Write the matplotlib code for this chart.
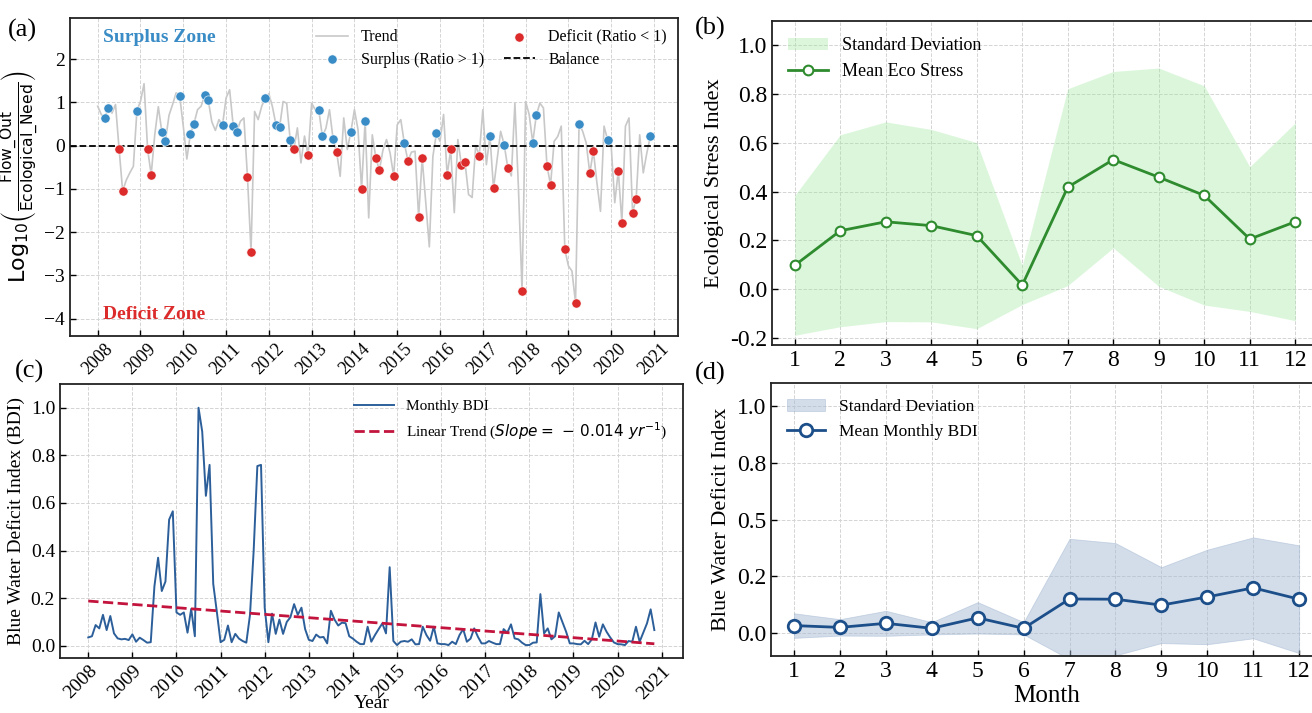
import numpy as np
import matplotlib
matplotlib.use('Agg')
import matplotlib.pyplot as plt

plt.rcParams['font.family'] = ['Liberation Serif', 'DejaVu Serif']
plt.rcParams['mathtext.fontset'] = 'dejavusans'

# ---------------- data ----------------
START_YEAR = 2008

# (a) monthly log10(Flow_Out / Ecological_Need), Jan 2008 .. Dec 2020
log_ratio = [
    0.91, 0.72, 0.64, 0.88, 0.75, 0.95, -0.08, -1.05, -0.80, -0.63, -0.48, 0.81,
    1.02, 1.43, -0.09, -0.67, 0.25, 0.90, 0.31, 0.11, 0.70, 0.95, 1.22, 1.14,
    0.45, -0.31, 0.27, 0.51, 0.83, 0.91, 1.16, 1.05, 0.55, 0.35, 0.60, 0.47,
    1.10, 1.29, 0.46, 0.32, 0.56, 0.64, -0.72, -2.45, 0.79, 0.60, 0.91, 1.10,
    1.20, 0.90, 0.48, 0.42, 1.02, 0.98, 0.12, -0.09, 0.41, -0.40, 0.22, -0.22,
    0.98, 0.83, 0.82, 0.22, 0.40, 0.83, 0.16, -0.15, -0.71, 0.64, -0.09, 0.32,
    0.83, 0.37, -1.00, 0.58, -1.67, 0.25, -0.28, -0.57, -0.10, 0.14, -0.17, -0.70,
    0.48, 0.60, 0.05, -0.35, -0.15, -0.13, -1.65, -0.29, -1.30, -2.34, -0.25, 0.29,
    0.10, 0.72, -0.68, -0.09, -1.55, 0.14, -0.45, -0.38, -1.13, -1.20, 0.00, -0.23,
    0.83, -0.44, 0.22, -0.99, -0.32, 0.33, 0.02, -0.51, -0.70, 0.98, -1.00, -3.35,
    1.02, 0.72, 0.07, 0.70, 0.98, 0.87, -0.47, -0.91, 0.10, 0.21, 0.45, -2.40,
    -2.78, -2.90, -3.63, 0.51, 0.33, 0.06, -0.64, -0.12, -0.86, -1.52, 0.45, 0.13,
    0.00, -1.32, -0.58, -1.78, 0.45, 0.64, -1.55, -1.23, 0.25, -0.63, -0.17, 0.22,
]
sample_months = [2, 3, 6, 7, 11]  # months of each year shown as dots

# (b) ecological stress by calendar month
months = list(range(1, 13))
eco_mean = [0.097, 0.239, 0.276, 0.260, 0.219, 0.016, 0.418, 0.531, 0.459, 0.384, 0.205, 0.276]
eco_std = [0.287, 0.394, 0.410, 0.395, 0.382, 0.080, 0.404, 0.362, 0.448, 0.450, 0.297, 0.406]

# (c) monthly BDI, Jan 2008 .. Nov 2020
bdi = [
    0.035, 0.040, 0.087, 0.073, 0.130, 0.066, 0.125, 0.052, 0.031, 0.027, 0.029, 0.024,
    0.048, 0.017, 0.034, 0.024, 0.013, 0.015, 0.250, 0.370, 0.230, 0.270, 0.530, 0.565,
    0.140, 0.130, 0.140, 0.055, 0.155, 0.040, 1.000, 0.900, 0.630, 0.760, 0.260, 0.140,
    0.015, 0.025, 0.085, 0.015, 0.050, 0.030, 0.020, 0.013, 0.130, 0.400, 0.755, 0.760,
    0.160, 0.015, 0.135, 0.050, 0.110, 0.050, 0.100, 0.120, 0.175, 0.130, 0.160, 0.070,
    0.025, 0.020, 0.047, 0.035, 0.037, 0.010, 0.147, 0.110, 0.085, 0.097, 0.095, 0.040,
    0.030, 0.017, 0.007, 0.007, 0.080, 0.017, 0.045, 0.070, 0.094, 0.052, 0.330, 0.020,
    0.003, 0.017, 0.020, 0.017, 0.027, 0.006, 0.007, 0.080, 0.045, 0.021, 0.080, 0.010,
    0.007, 0.007, 0.003, 0.017, 0.007, 0.045, 0.070, 0.017, 0.030, 0.073, 0.038, 0.010,
    0.010, 0.020, 0.013, 0.007, 0.007, 0.070, 0.055, 0.090, 0.031, 0.027, 0.013, 0.003,
    0.003, 0.013, 0.014, 0.217, 0.052, 0.073, 0.027, 0.040, 0.140, 0.100, 0.059, 0.010,
    0.010, 0.007, 0.006, 0.021, 0.007, 0.027, 0.098, 0.038, 0.090, 0.059, 0.035, 0.014,
    0.007, 0.006, 0.003, 0.020, 0.017, 0.080, 0.017, 0.055, 0.094, 0.153, 0.066,
]
bdi_trend_start = 0.188
bdi_slope = -0.014  # per year

# (d) BDI by calendar month
bdi_mean = [0.034, 0.026, 0.044, 0.022, 0.068, 0.022, 0.151, 0.150, 0.124, 0.160, 0.200, 0.150]
bdi_std = [0.054, 0.036, 0.055, 0.027, 0.069, 0.027, 0.265, 0.247, 0.167, 0.208, 0.222, 0.237]

years = list(range(2008, 2022))

# ---------------- style ----------------
BLUE = '#3a8cc6'
RED = '#dc2b2b'
GREY = '#c8c8c8'
GREEN = '#2e8b2e'
BAND_GREEN = '#9be89b'
BDI_LINE = '#2c5f9a'
TREND_RED = '#c2143d'
NAVY = '#1c4f8a'
BAND_BLUE = '#a9bdd6'


def style_axes(ax, size):
    ax.grid(True, linestyle='--', color='#d4d4d4', linewidth=0.7)
    ax.set_axisbelow(True)
    ax.tick_params(direction='in', labelsize=size, length=4, width=1)
    for sp in ax.spines.values():
        sp.set_linewidth(1.3)
        sp.set_color('#222222')


fig = plt.figure(figsize=(13.12, 7.13), dpi=100)

# ---- (a) ----
ax = fig.add_axes([0.0534, 0.5288, 0.4634, 0.446])
style_axes(ax, 14)
t = START_YEAR + np.arange(len(log_ratio)) / 12.0
vals = np.array(log_ratio)
ax.plot(t, vals, color=GREY, linewidth=1.2, label='Trend', zorder=2)
idx = np.array([y * 12 + m for y in range(len(log_ratio) // 12) for m in sample_months])
sur = idx[vals[idx] > 0]
dfc = idx[vals[idx] <= 0]
ax.scatter(t[sur], vals[sur], s=44, color=BLUE, edgecolor='white', linewidth=0.4,
           label='Surplus (Ratio > 1)', zorder=3)
ax.scatter(t[dfc], vals[dfc], s=44, color=RED, edgecolor='white', linewidth=0.4,
           label='Deficit (Ratio < 1)', zorder=3)
ax.axhline(0, color='black', linestyle='--', linewidth=1.3, label='Balance', zorder=2)
ax.set_ylim(-4.4, 2.95)
ax.set_xticks(years)
ax.set_xticklabels([str(y) for y in years], rotation=45, fontsize=13)
ax.set_yticks(range(-4, 3))
ax.set_ylabel(r'$\mathrm{Log}_{10}\left(\frac{\mathrm{Flow\_Out}}{\mathrm{Ecological\_Need}}\right)$',
              fontsize=16, labelpad=2)
ax.text(0.054, 0.94, 'Surplus Zone', transform=ax.transAxes, color=BLUE,
        fontsize=14, fontweight='bold', va='center')
ax.text(0.054, 0.066, 'Deficit Zone', transform=ax.transAxes, color=RED,
        fontsize=14, fontweight='bold', va='center')
h, l = ax.get_legend_handles_labels()
order = [l.index('Trend'), l.index('Surplus (Ratio > 1)'),
         l.index('Deficit (Ratio < 1)'), l.index('Balance')]
ax.legend([h[i] for i in order], [l[i] for i in order], ncol=2, loc='upper right',
          frameon=False, fontsize=11.5, columnspacing=1.2, handlelength=2.0,
          borderaxespad=0.3, labelspacing=0.4)

# ---- (b) ----
ax = fig.add_axes([0.5884, 0.5161, 0.4162, 0.4544])
style_axes(ax, 17)
mean = np.array(eco_mean)
sd = np.array(eco_std)
ax.fill_between(months, mean - sd, mean + sd, color=BAND_GREEN, alpha=0.35,
                linewidth=0, label='Standard Deviation')
ax.plot(months, mean, color=GREEN, linewidth=2, marker='o', markersize=7,
        markerfacecolor='white', markeredgecolor=GREEN, markeredgewidth=1.5,
        label='Mean Eco Stress')
ax.set_xlim(0.5, 12.5)
ax.set_ylim(-0.23, 1.1)
ax.set_xticks(months)
ax.set_yticks(np.arange(-0.2, 1.01, 0.2))
ax.set_yticklabels(['%.1f' % v for v in np.arange(-0.2, 1.01, 0.2)])
ax.set_ylabel('Ecological Stress Index', fontsize=16)
ax.legend(loc='upper left', frameon=False, fontsize=13, handlelength=2.2,
          borderaxespad=0.5)

# ---- (c) ----
ax = fig.add_axes([0.0457, 0.0776, 0.4746, 0.3839])
style_axes(ax, 14)
tc = START_YEAR + np.arange(len(bdi)) / 12.0
ax.plot(tc, bdi, color=BDI_LINE, linewidth=1.4, label='Monthly BDI')
trend = bdi_trend_start + bdi_slope * (tc - START_YEAR)
ax.plot(tc, trend, color=TREND_RED, linestyle='--', linewidth=2,
        label=r'Linear Trend ($Slope = \,-\,0.014\ yr^{-1}$)')
ax.set_ylim(-0.05, 1.1)
ax.set_xticks(years)
ax.set_xticklabels([str(y) for y in years], rotation=45, ha='right',
                   rotation_mode='anchor', fontsize=14)
ax.set_yticks(np.arange(0, 1.01, 0.2))
ax.set_yticklabels(['%.1f' % v for v in np.arange(0, 1.01, 0.2)])
ax.set_ylabel('Blue Water Deficit Index (BDI)', fontsize=14)
ax.set_xlabel('Year', fontsize=14, labelpad=-5)
ax.legend(loc='upper right', frameon=False, fontsize=11, handlelength=2.6,
          borderaxespad=0.6)

# ---- (d) ----
ax = fig.add_axes([0.5877, 0.0799, 0.42, 0.3825])
style_axes(ax, 17)
mean = np.array(bdi_mean)
sd = np.array(bdi_std)
ax.fill_between(months, mean - sd, mean + sd, color=BAND_BLUE, alpha=0.5,
                linewidth=0.6, edgecolor='#9fb4cf', label='Standard Deviation')
ax.plot(months, mean, color=NAVY, linewidth=2, marker='o', markersize=9,
        markerfacecolor='white', markeredgecolor=NAVY, markeredgewidth=2,
        label='Mean Monthly BDI')
ax.set_xlim(0.5, 12.5)
ax.set_ylim(-0.1, 1.1)
ax.set_xticks(months)
yt = np.arange(0, 1.01, 0.25)
ax.set_yticks(yt)
ax.set_yticklabels(['%.1f' % v for v in yt])
ax.set_ylabel('Blue Water Deficit Index', fontsize=16)
ax.set_xlabel('Month', fontsize=18, labelpad=2)
ax.legend(loc='upper left', frameon=False, fontsize=12.5, handlelength=2.2,
          borderaxespad=0.5)

# panel letters
for x, y, s in [(0.006, 0.948, '(a)'), (0.530, 0.951, '(b)'),
                (0.011, 0.470, '(c)'), (0.530, 0.467, '(d)')]:
    fig.text(x, y, s, fontsize=19)

fig.savefig('out.png', dpi=100)
